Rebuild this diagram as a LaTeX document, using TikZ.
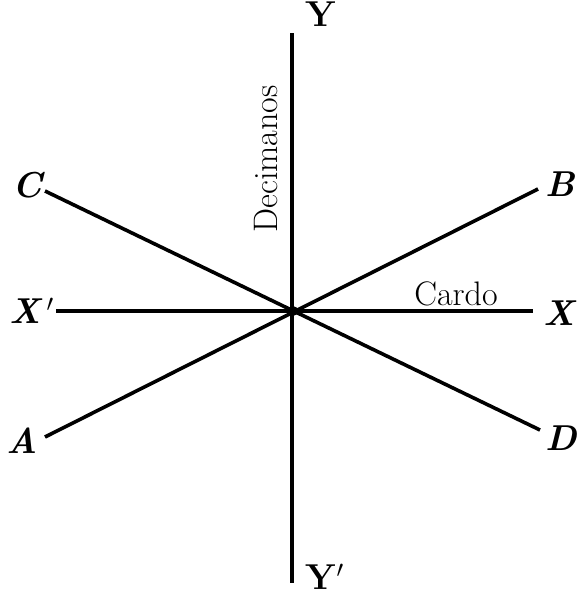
\documentclass[tikz,border=0pt]{standalone}
\usepackage{amsmath}
\usepackage{tikz}
\tikzset{
  ax/.style={line width=1.8pt},
  lb/.style={font=\fontsize{18}{20}\selectfont\bfseries\itshape,inner sep=0pt},
  lbup/.style={font=\fontsize{18}{20}\selectfont\bfseries,inner sep=0pt},
  nm/.style={font=\fontsize{17}{19}\selectfont,inner sep=0pt}
}
\begin{document}
\begin{tikzpicture}[x=0.5pt,y=-0.5pt]
\useasboundingbox (0,0) rectangle (580,594);
\coordinate (O) at (293,311);
\coordinate (yt) at (292,33); \coordinate (yb) at (292,583);
\coordinate (xl) at (56,311); \coordinate (xr) at (533,311);
\coordinate (c) at (45,191); \coordinate (d) at (540,430);
\coordinate (b) at (538,189); \coordinate (a) at (45,437);
\draw[ax] (yt) -- (yb);
\draw[ax] (xl) -- (xr);
\draw[ax] (c) -- (d);
\draw[ax] (a) -- (b);
\fill (O) circle (5);
\node[lbup] (Y) at (321,14) {Y};
\node[lbup] (Yp) at (325,577) {Y$'$};
\node[lb] (X) at (559,313) {X};
\node[lb] (Xp) at (32,311) {X$\,'$};
\node[lb] (C) at (27,185) {C};
\node[lb] (B) at (560,184) {B};
\node[lb] (A) at (22,441) {A};
\node[lb] (D) at (561,438) {D};
\node[nm,rotate=90] (dec) at (266,159) {Decimanos};
\node[nm] (car) at (456,294) {Cardo};
\end{tikzpicture}
\end{document}
